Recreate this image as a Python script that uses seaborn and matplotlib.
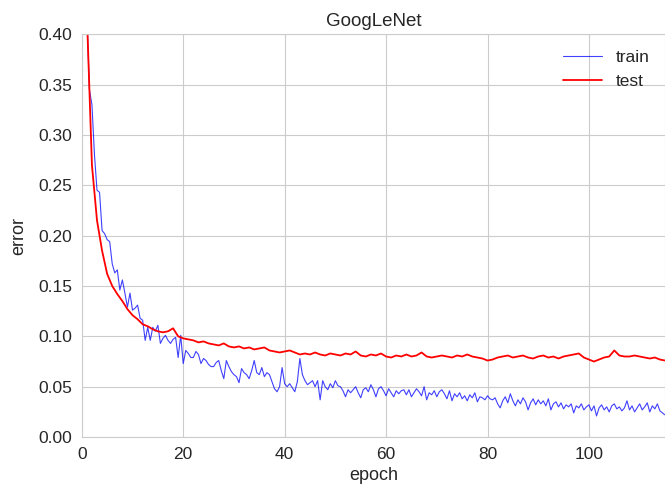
import numpy as np
import pandas as pd
import matplotlib
matplotlib.use("Agg")
import matplotlib.pyplot as plt
import seaborn as sns

# test error, one value per epoch (1..115)
test_epochs = list(range(1, 116))
test_err = [
    0.420, 0.270, 0.215, 0.185, 0.162, 0.150, 0.142, 0.135, 0.127, 0.121,
    0.117, 0.112, 0.110, 0.107, 0.105, 0.104, 0.105, 0.108, 0.100, 0.098,
    0.097, 0.096, 0.094, 0.095, 0.093, 0.092, 0.091, 0.093, 0.090, 0.089,
    0.090, 0.088, 0.089, 0.087, 0.088, 0.089, 0.086, 0.085, 0.084, 0.085,
    0.086, 0.084, 0.082, 0.083, 0.082, 0.084, 0.082, 0.081, 0.083, 0.082,
    0.081, 0.083, 0.082, 0.085, 0.081, 0.080, 0.082, 0.081, 0.083, 0.080,
    0.079, 0.081, 0.080, 0.082, 0.080, 0.081, 0.084, 0.080, 0.079, 0.080,
    0.081, 0.080, 0.079, 0.081, 0.080, 0.082, 0.080, 0.079, 0.078, 0.076,
    0.077, 0.079, 0.080, 0.081, 0.079, 0.080, 0.081, 0.079, 0.078, 0.080,
    0.081, 0.079, 0.080, 0.078, 0.080, 0.081, 0.082, 0.083, 0.079, 0.077,
    0.075, 0.077, 0.079, 0.080, 0.086, 0.081, 0.080, 0.080, 0.081, 0.080,
    0.079, 0.078, 0.079, 0.077, 0.076,
]

# train error, logged every half epoch (1.0..115.0)
train_epochs = [1 + 0.5 * i for i in range(229)]
train_err = [
    0.420, 0.345, 0.330, 0.280, 0.245, 0.243, 0.205, 0.202, 0.196, 0.194,
    0.172, 0.163, 0.166, 0.146, 0.156, 0.143, 0.129, 0.143, 0.126, 0.128,
    0.131, 0.118, 0.116, 0.096, 0.109, 0.096, 0.109, 0.105, 0.111, 0.093,
    0.098, 0.101, 0.096, 0.093, 0.097, 0.099, 0.079, 0.101, 0.073, 0.086,
    0.083, 0.079, 0.079, 0.085, 0.082, 0.073, 0.078, 0.076, 0.072, 0.070,
    0.070, 0.074, 0.076, 0.066, 0.058, 0.076, 0.070, 0.065, 0.062, 0.060,
    0.054, 0.068, 0.064, 0.062, 0.058, 0.066, 0.076, 0.064, 0.062, 0.069,
    0.060, 0.064, 0.062, 0.055, 0.048, 0.045, 0.050, 0.069, 0.053, 0.050,
    0.053, 0.049, 0.045, 0.055, 0.078, 0.062, 0.056, 0.052, 0.054, 0.056,
    0.050, 0.056, 0.037, 0.056, 0.050, 0.047, 0.053, 0.049, 0.056, 0.051,
    0.050, 0.046, 0.040, 0.047, 0.044, 0.047, 0.050, 0.044, 0.039, 0.047,
    0.049, 0.045, 0.052, 0.047, 0.040, 0.048, 0.050, 0.046, 0.041, 0.048,
    0.044, 0.040, 0.046, 0.043, 0.046, 0.047, 0.042, 0.047, 0.040, 0.044,
    0.048, 0.045, 0.041, 0.050, 0.037, 0.044, 0.042, 0.046, 0.040, 0.045,
    0.047, 0.043, 0.038, 0.046, 0.036, 0.043, 0.040, 0.044, 0.038, 0.041,
    0.036, 0.042, 0.039, 0.044, 0.035, 0.040, 0.039, 0.037, 0.041, 0.038,
    0.037, 0.039, 0.033, 0.029, 0.036, 0.040, 0.034, 0.043, 0.036, 0.031,
    0.037, 0.033, 0.039, 0.035, 0.027, 0.034, 0.038, 0.032, 0.037, 0.033,
    0.036, 0.031, 0.038, 0.027, 0.033, 0.035, 0.030, 0.034, 0.028, 0.032,
    0.030, 0.033, 0.024, 0.031, 0.029, 0.033, 0.027, 0.030, 0.032, 0.026,
    0.031, 0.021, 0.029, 0.032, 0.027, 0.030, 0.025, 0.031, 0.033, 0.028,
    0.030, 0.026, 0.029, 0.036, 0.027, 0.031, 0.025, 0.029, 0.033, 0.027,
    0.030, 0.034, 0.025, 0.031, 0.028, 0.033, 0.026, 0.024, 0.022,
]

sns.set_style("whitegrid", {
    "axes.edgecolor": ".8",
    "grid.color": ".8",
    "axes.linewidth": 1.5,
    "grid.linewidth": 1.5,
})
plt.rcParams["font.family"] = ["Liberation Sans", "DejaVu Sans"]
plt.rcParams["text.color"] = ".15"
plt.rcParams["axes.labelcolor"] = ".15"
plt.rcParams["xtick.color"] = ".15"
plt.rcParams["ytick.color"] = ".15"

train_df = pd.DataFrame({"epoch": train_epochs, "error": train_err})
test_df = pd.DataFrame({"epoch": test_epochs, "error": test_err})

fig = plt.figure(figsize=(6.65, 4.95), dpi=100)
ax = fig.add_axes([0.123, 0.117, 0.877, 0.814])

sns.lineplot(data=train_df, x="epoch", y="error", ax=ax, color="blue",
             linewidth=0.8, alpha=0.75, label="train")
sns.lineplot(data=test_df, x="epoch", y="error", ax=ax, color="red",
             linewidth=1.3, label="test")

ax.set_xlim(0, 115)
ax.set_ylim(0, 0.40)
ax.set_yticks(np.arange(0, 0.41, 0.05))
ax.set_yticklabels([f"{v:.2f}" for v in np.arange(0, 0.41, 0.05)])
ax.set_xticks([0, 20, 40, 60, 80, 100])
ax.tick_params(labelsize=12.5, length=0, pad=7)
ax.set_xlabel("epoch", fontsize=13)
ax.set_ylabel("error", fontsize=13, labelpad=8)
ax.set_title("GoogLeNet", fontsize=13.5)
ax.legend(loc="upper right", frameon=False, fontsize=12.5, handlelength=2.2)

fig.savefig("out.png", dpi=100)
